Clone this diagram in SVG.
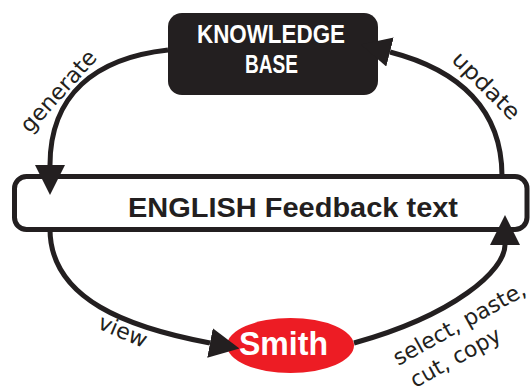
<svg xmlns="http://www.w3.org/2000/svg" width="530" height="392" viewBox="0 0 530 392">
<defs>
<style>
.conn{fill:none;stroke:#231F20;stroke-width:5}
.lbl{font-family:"DejaVu Sans","Liberation Sans",sans-serif;font-size:22px;fill:#231F20}
.bold{font-family:"Liberation Sans",Arial,sans-serif;font-weight:bold}
</style>
<marker id="ah" viewBox="0 0 30 30" refX="0" refY="15" markerWidth="30" markerHeight="30" markerUnits="userSpaceOnUse" orient="auto"><path d="M0,0L30,15L0,30z" fill="#231F20"/></marker>
</defs>
<rect width="530" height="392" fill="#ffffff"/>
<g id="feedback">
<rect x="14.5" y="176.5" width="512.5" height="53" rx="12" fill="#ffffff" stroke="#231F20" stroke-width="5"/>
<text class="bold" x="293" y="217" font-size="28" text-anchor="middle" fill="#231F20" textLength="330" lengthAdjust="spacingAndGlyphs">ENGLISH Feedback text</text>
</g>
<g id="smith">
<ellipse cx="290.5" cy="345.5" rx="63.5" ry="27.5" fill="#ED1C24"/>
<text class="bold" x="283.5" y="355" font-size="33" text-anchor="middle" fill="#ffffff" textLength="89" lengthAdjust="spacingAndGlyphs">Smith</text>
</g>
<g id="knowledge-base">
<rect x="168" y="13" width="210" height="82" rx="14" fill="#231F20"/>
<text class="bold" x="271" y="43" font-size="25" text-anchor="middle" fill="#ffffff" textLength="148" lengthAdjust="spacingAndGlyphs">KNOWLEDGE</text>
<text class="bold" x="271.5" y="73" font-size="25" text-anchor="middle" fill="#ffffff" textLength="53" lengthAdjust="spacingAndGlyphs">BASE</text>
</g>
<g id="connectors">
<path class="conn" d="M168,50 C95,58 50,95 50,165" marker-end="url(#ah)"/>
<path class="conn" d="M502,176 C502,110 460,70 390,52" marker-end="url(#ah)"/>
<path class="conn" d="M50,229 C50,300 130,328 210,343" marker-end="url(#ah)"/>
<path class="conn" d="M354,343 C455,315 505,270 505,245" marker-end="url(#ah)"/>
</g>
<g id="labels">
<text class="lbl" transform="translate(64,96) rotate(-48)" text-anchor="middle" textLength="102" lengthAdjust="spacingAndGlyphs">generate</text>
<text class="lbl" transform="translate(481,91) rotate(45)" text-anchor="middle" textLength="86" lengthAdjust="spacingAndGlyphs">update</text>
<text class="lbl" transform="translate(120,338) rotate(23)" text-anchor="middle" textLength="51" lengthAdjust="spacingAndGlyphs">view</text>
<text class="lbl" transform="translate(463,330) rotate(-29)" text-anchor="middle" textLength="148" lengthAdjust="spacingAndGlyphs">select, paste,</text>
<text class="lbl" transform="translate(459,364) rotate(-29)" text-anchor="middle" textLength="100" lengthAdjust="spacingAndGlyphs">cut, copy</text>
</g>
</svg>
